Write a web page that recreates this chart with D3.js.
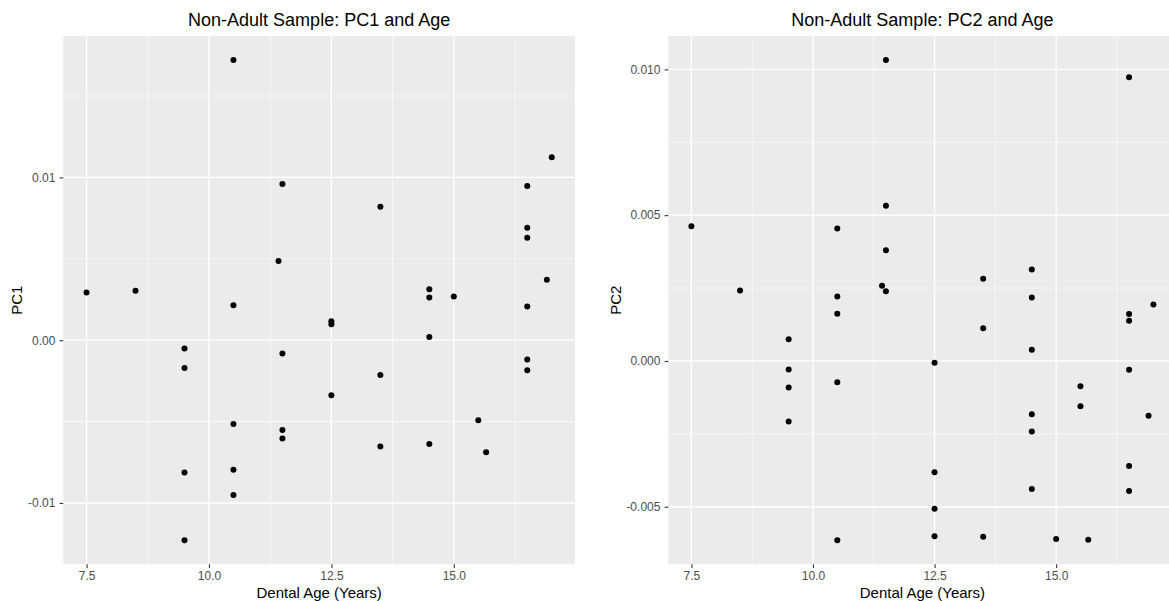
<!DOCTYPE html>
<html>
<head>
<meta charset="utf-8">
<script src="https://cdn.jsdelivr.net/npm/d3@7"></script>
<style>
  body { margin: 0; background: #fff; }
  svg { display: block; font-family: "Liberation Sans", Arial, Helvetica, sans-serif; }
</style>
</head>
<body>
<script>
// left panel: PC1 against dental age
var ageA = [7.5, 8.5, 9.5, 9.5, 9.5, 9.5, 10.5, 10.5, 10.5, 10.5, 10.5, 11.42,
  11.5, 11.5, 11.5, 11.5, 12.5, 12.5, 12.5, 13.5, 13.5, 13.5, 14.5, 14.5, 14.5,
  14.5, 15.0, 15.5, 15.66, 16.5, 16.5, 16.5, 16.5, 16.5, 16.5, 16.9, 17.0];
var pc1 = [0.00293, 0.00303, -0.00051, -0.00170, -0.00813, -0.01229, 0.01721,
  0.00215, -0.00514, -0.00795, -0.00951, 0.00486, 0.00959, -0.00082, -0.00551,
  -0.00604, 0.00117, 0.00098, -0.00338, 0.00819, -0.00213, -0.00653, 0.00313,
  0.00262, 0.00020, -0.00637, 0.00268, -0.00492, -0.00688, 0.00947, 0.00690,
  0.00629, 0.00207, -0.00119, -0.00184, 0.00371, 0.01123];

// right panel: PC2 against dental age
var ageB = [7.5, 8.5, 9.5, 9.5, 9.5, 9.5, 10.5, 10.5, 10.5, 10.5, 10.5, 11.42,
  11.5, 11.5, 11.5, 11.5, 12.5, 12.5, 12.5, 12.5, 13.5, 13.5, 13.5, 14.5, 14.5,
  14.5, 14.5, 14.5, 14.5, 15.0, 15.5, 15.5, 15.66, 16.5, 16.5, 16.5, 16.5, 16.5,
  16.5, 16.9, 17.0];
var pc2 = [0.00462, 0.00242, 0.00074, -0.00029, -0.00091, -0.00208, 0.00454,
  0.00221, 0.00162, -0.00073, -0.00615, 0.00258, 0.01032, 0.00532, 0.00380,
  0.00239, -0.00006, -0.00382, -0.00507, -0.00601, 0.00282, 0.00112, -0.00603,
  0.00314, 0.00218, 0.00038, -0.00183, -0.00242, -0.00439, -0.00611, -0.00087,
  -0.00155, -0.00613, 0.00973, 0.00161, 0.00138, -0.00030, -0.00360, -0.00446,
  -0.00188, 0.00194];

var xTicks = [7.5, 10.0, 12.5, 15.0];
var xTickLabels = ["7.5", "10.0", "12.5", "15.0"];
var xMinor = [8.75, 11.25, 13.75, 16.25];

var yTicksA = [-0.01, 0.00, 0.01];
var yTickLabelsA = ["-0.01", "0.00", "0.01"];
var yMinorA = [-0.005, 0.005, 0.015];

var yTicksB = [-0.005, 0.000, 0.005, 0.010];
var yTickLabelsB = ["-0.005", "0.000", "0.005", "0.010"];
var yMinorB = [-0.0025, 0.0025, 0.0075];

var titles = ["Non-Adult Sample: PC1 and Age", "Non-Adult Sample: PC2 and Age"];
var xTitle = "Dental Age (Years)";
var yTitles = ["PC1", "PC2"];

// ggplot-style 5% expansion of the data range
function expanded(values) {
  var ext = d3.extent(values);
  var pad = (ext[1] - ext[0]) * 0.05;
  return [ext[0] - pad, ext[1] + pad];
}

function drawPanel(svg, opts) {
  var x = d3.scaleLinear().domain(expanded(opts.ages)).range([opts.left, opts.right]);
  var y = d3.scaleLinear().domain(expanded(opts.values)).range([opts.bottom, opts.top]);
  var g = svg.append("g");

  g.append("rect")
    .attr("x", opts.left).attr("y", opts.top)
    .attr("width", opts.right - opts.left).attr("height", opts.bottom - opts.top)
    .attr("fill", "#EBEBEB");

  // minor grid
  g.selectAll(".xminor").data(opts.xMinor).enter().append("line")
    .attr("x1", function(d){ return x(d); }).attr("x2", function(d){ return x(d); })
    .attr("y1", opts.top).attr("y2", opts.bottom)
    .attr("stroke", "#fff").attr("stroke-width", 0.6);
  g.selectAll(".yminor").data(opts.yMinor).enter().append("line")
    .attr("y1", function(d){ return y(d); }).attr("y2", function(d){ return y(d); })
    .attr("x1", opts.left).attr("x2", opts.right)
    .attr("stroke", "#fff").attr("stroke-width", 0.6);

  // major grid
  g.selectAll(".xmajor").data(opts.xTicks).enter().append("line")
    .attr("x1", function(d){ return x(d); }).attr("x2", function(d){ return x(d); })
    .attr("y1", opts.top).attr("y2", opts.bottom)
    .attr("stroke", "#fff").attr("stroke-width", 1.3);
  g.selectAll(".ymajor").data(opts.yTicks).enter().append("line")
    .attr("y1", function(d){ return y(d); }).attr("y2", function(d){ return y(d); })
    .attr("x1", opts.left).attr("x2", opts.right)
    .attr("stroke", "#fff").attr("stroke-width", 1.3);

  // points
  var pts = opts.ages.map(function(a, i){ return {age: a, val: opts.values[i]}; });
  g.selectAll("circle").data(pts).enter().append("circle")
    .attr("cx", function(d){ return x(d.age); })
    .attr("cy", function(d){ return y(d.val); })
    .attr("r", 3)
    .attr("fill", "#000");

  // axes
  var xAxis = d3.axisBottom(x).tickValues(opts.xTicks).tickSize(3.7).tickPadding(3.4)
    .tickFormat(function(d, i){ return opts.xLabels[i]; });
  var ax = g.append("g").attr("transform", "translate(0," + opts.bottom + ")").call(xAxis);
  ax.select(".domain").remove();
  ax.selectAll("line").attr("stroke", "#333").attr("stroke-width", 1.1);
  ax.selectAll("text").attr("fill", "#4D4D4D").style("font-size", "12px");

  var yAxis = d3.axisLeft(y).tickValues(opts.yTicks).tickSize(3.7).tickPadding(4.2)
    .tickFormat(function(d, i){ return opts.yLabels[i]; });
  var ay = g.append("g").attr("transform", "translate(" + opts.left + ",0)").call(yAxis);
  ay.select(".domain").remove();
  ay.selectAll("line").attr("stroke", "#333").attr("stroke-width", 1.1);
  ay.selectAll("text").attr("fill", "#4D4D4D").style("font-size", "12px");

  var cx = (opts.left + opts.right) / 2;
  g.append("text")
    .attr("x", cx).attr("y", 26)
    .attr("text-anchor", "middle")
    .style("font-size", "18px")
    .attr("fill", "#000")
    .text(opts.title);

  g.append("text")
    .attr("x", cx).attr("y", 597.5)
    .attr("text-anchor", "middle")
    .style("font-size", "15px")
    .attr("fill", "#000")
    .text(xTitle);

  g.append("text")
    .attr("transform", "translate(" + opts.yTitleX + "," + ((opts.top + opts.bottom) / 2) + ") rotate(-90)")
    .attr("text-anchor", "middle")
    .style("font-size", "15px")
    .attr("fill", "#000")
    .text(opts.yTitle);
}

window.addEventListener("load", function () {
  var svg = d3.select("body").append("svg")
    .attr("width", 1169)
    .attr("height", 601);

  drawPanel(svg, {
    left: 63.3, right: 575, top: 36, bottom: 564.3,
    ages: ageA, values: pc1,
    xTicks: xTicks, xLabels: xTickLabels, xMinor: xMinor,
    yTicks: yTicksA, yLabels: yTickLabelsA, yMinor: yMinorA,
    title: titles[0], yTitle: yTitles[0], yTitleX: 21.6
  });

  drawPanel(svg, {
    left: 668.3, right: 1176.5, top: 36, bottom: 564.3,
    ages: ageB, values: pc2,
    xTicks: xTicks, xLabels: xTickLabels, xMinor: xMinor,
    yTicks: yTicksB, yLabels: yTickLabelsB, yMinor: yMinorB,
    title: titles[1], yTitle: yTitles[1], yTitleX: 620.6
  });
});
</script>
</body>
</html>
